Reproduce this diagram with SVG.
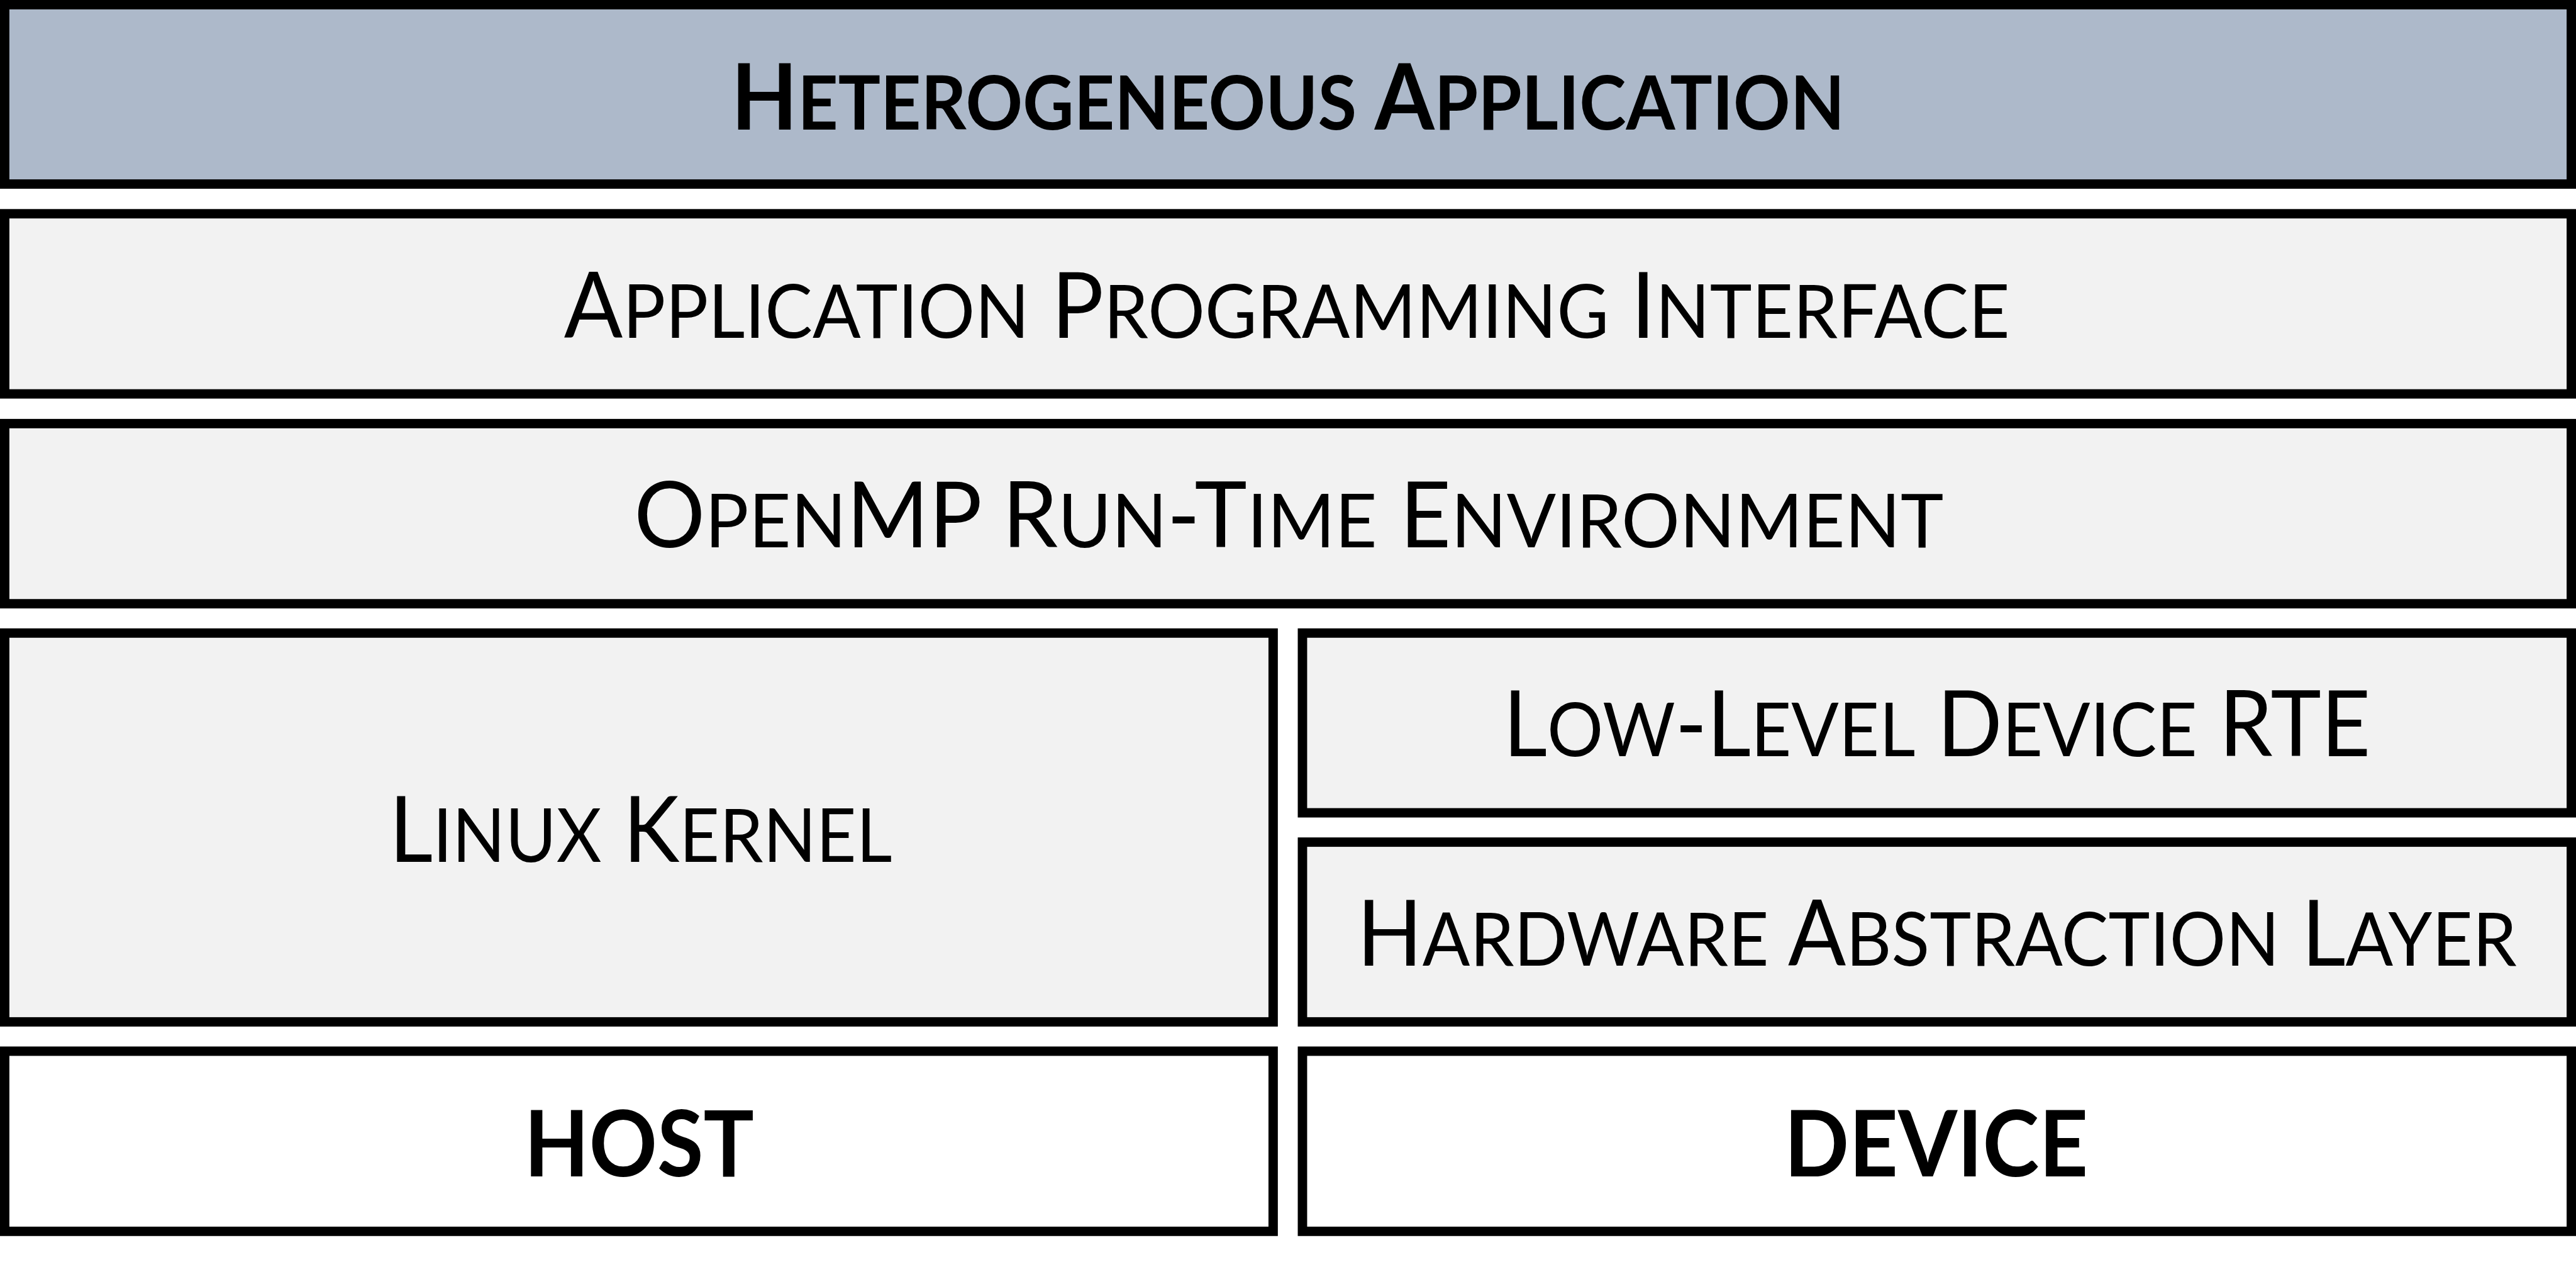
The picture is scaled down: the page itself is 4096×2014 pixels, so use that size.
<svg xmlns="http://www.w3.org/2000/svg" width="4096" height="2014" viewBox="0 0 4096 2014">
<style>
.box{stroke:#000;stroke-width:24}
.blue{fill:#ADB9CA}
.grey{fill:#F2F2F2}
.white{fill:#FFFFFF}
text{font-family:Lato,"Open Sans","Liberation Sans",sans-serif;font-size:234px;fill:#000;text-anchor:middle}
.b{font-weight:bold}
.s{font-size:192px}
</style>
<rect width="4096" height="2014" fill="#FFFFFF"/>
<g transform="scale(0.62117)">
<g id="connectors"></g>
<g id="heterogeneous-application">
<rect class="box blue" x="12" y="12" width="6570" height="459"/>
<text class="b" x="3297" y="331" textLength="2850" lengthAdjust="spacingAndGlyphs">H<tspan class="s">ETEROGENEOUS</tspan> A<tspan class="s">PPLICATION</tspan></text>
</g>
<g id="api">
<rect class="box grey" x="12" y="547" width="6570" height="461"/>
<text x="3294" y="865" textLength="3701" lengthAdjust="spacingAndGlyphs">A<tspan class="s">PPLICATION</tspan> P<tspan class="s">ROGRAMMING</tspan> I<tspan class="s">NTERFACE</tspan></text>
</g>
<g id="openmp-rte">
<rect class="box grey" x="12" y="1084" width="6570" height="461"/>
<text x="3299" y="1400" textLength="3352" lengthAdjust="spacingAndGlyphs">O<tspan class="s">PEN</tspan>MP R<tspan class="s">UN</tspan>-T<tspan class="s">IME</tspan> E<tspan class="s">NVIRONMENT</tspan></text>
</g>
<g id="linux-kernel">
<rect class="box grey" x="12" y="1620" width="3247" height="995"/>
<text x="1640" y="2206" textLength="1287" lengthAdjust="spacingAndGlyphs">L<tspan class="s">INUX</tspan> K<tspan class="s">ERNEL</tspan></text>
</g>
<g id="low-level-device-rte">
<rect class="box grey" x="3334" y="1620" width="3248" height="460"/>
<text x="4958" y="1935" textLength="2220" lengthAdjust="spacingAndGlyphs">L<tspan class="s">OW</tspan>-L<tspan class="s">EVEL</tspan> D<tspan class="s">EVICE</tspan> RTE</text>
</g>
<g id="hal">
<rect class="box grey" x="3334" y="2155" width="3248" height="460"/>
<text x="4958" y="2471" textLength="2969" lengthAdjust="spacingAndGlyphs">H<tspan class="s">ARDWARE</tspan> A<tspan class="s">BSTRACTION</tspan> L<tspan class="s">AYER</tspan></text>
</g>
<g id="host">
<rect class="box white" x="12" y="2690" width="3247" height="461"/>
<text class="b" x="1636" y="3010" textLength="588" lengthAdjust="spacingAndGlyphs">HOST</text>
</g>
<g id="device">
<rect class="box white" x="3334" y="2690" width="3248" height="461"/>
<text class="b" x="4956" y="3010" textLength="778" lengthAdjust="spacingAndGlyphs">DEVICE</text>
</g>
</g>
</svg>
